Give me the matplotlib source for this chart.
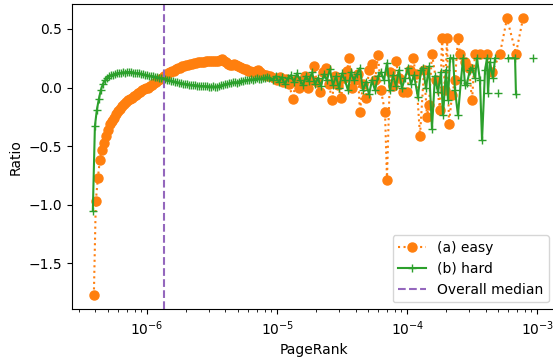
import matplotlib
matplotlib.use("Agg")
import matplotlib.pyplot as plt
import numpy as np

# log10(PageRank) and ratio for the "easy" group
easy_log_pr = [
    -6.410, -6.395, -6.379, -6.364, -6.348, -6.333, -6.318, -6.302, -6.287, -6.272,
    -6.256, -6.241, -6.225, -6.210, -6.195, -6.179, -6.164, -6.148, -6.133, -6.118,
    -6.102, -6.087, -6.072, -6.056, -6.041, -6.025, -6.010, -5.995, -5.979, -5.964,
    -5.948, -5.933, -5.918, -5.902, -5.887, -5.872, -5.856, -5.841, -5.825, -5.810,
    -5.795, -5.779, -5.764, -5.748, -5.733, -5.718, -5.702, -5.687, -5.672, -5.656,
    -5.641, -5.625, -5.610, -5.595, -5.579, -5.564, -5.548, -5.533, -5.518, -5.502,
    -5.487, -5.472, -5.456, -5.441, -5.425, -5.410, -5.395, -5.379, -5.364, -5.348,
    -5.333, -5.318, -5.302, -5.287, -5.272, -5.256, -5.241, -5.225, -5.210, -5.195,
    -5.179, -5.164, -5.148, -5.133, -5.118, -5.102, -5.087, -5.072, -5.056,
    -5.025, -5.002, -4.979, -4.956, -4.933, -4.910, -4.879, -4.856, -4.833, -4.810,
    -4.787, -4.764, -4.740, -4.717, -4.694, -4.672, -4.649, -4.625, -4.602, -4.579,
    -4.556, -4.533, -4.510, -4.487, -4.463, -4.448, -4.425, -4.402, -4.379, -4.364,
    -4.341, -4.318, -4.294, -4.271, -4.248, -4.225, -4.202, -4.171, -4.156, -4.133,
    -4.110, -4.087, -4.064, -4.033, -4.002, -3.979, -3.956, -3.933, -3.902, -3.871,
    -3.848, -3.833, -3.810, -3.779, -3.748, -3.733, -3.710, -3.694, -3.679, -3.656,
    -3.633, -3.610, -3.594, -3.556, -3.525, -3.502, -3.479, -3.441, -3.387, -3.348,
    -3.287, -3.233, -3.164, -3.110,
]
easy_ratio = [
    -1.77, -0.97, -0.77, -0.62, -0.53, -0.47, -0.41, -0.36, -0.31, -0.285,
    -0.26, -0.23, -0.20, -0.18, -0.16, -0.14, -0.125, -0.11, -0.10, -0.09,
    -0.075, -0.06, -0.05, -0.035, -0.025, -0.015, -0.005, 0.0, 0.01, 0.02,
    0.035, 0.05, 0.06, 0.07, 0.08, 0.095, 0.105, 0.12, 0.13, 0.14,
    0.145, 0.155, 0.165, 0.17, 0.18, 0.185, 0.19, 0.195, 0.20, 0.20,
    0.205, 0.21, 0.215, 0.215, 0.22, 0.22, 0.225, 0.225, 0.225, 0.23,
    0.23, 0.23, 0.23, 0.235, 0.24, 0.23, 0.215, 0.20, 0.19, 0.195,
    0.20, 0.19, 0.18, 0.175, 0.165, 0.16, 0.155, 0.145, 0.14, 0.135,
    0.13, 0.14, 0.15, 0.13, 0.115, 0.11, 0.105, 0.10, 0.095,
    0.08, 0.06, 0.09, 0.045, 0.07, 0.03, -0.10, 0.06, -0.005, 0.035,
    0.095, -0.005, 0.06, 0.18, 0.045, -0.04, 0.13, 0.17, 0.03, -0.11,
    0.095, 0.02, -0.09, 0.08, 0.14, 0.25, -0.005, 0.06, 0.115, -0.21,
    0.03, -0.09, 0.15, 0.20, 0.06, 0.275, -0.025, -0.21, -0.79, 0.13,
    0.01, 0.23, 0.08, -0.04, -0.04, 0.15, 0.25, 0.115, -0.41, 0.15,
    -0.25, -0.15, 0.29, 0.06, -0.19, 0.42, -0.025, 0.42, -0.31, -0.065,
    0.06, 0.42, 0.29, 0.215, 0.165, -0.11, 0.29, 0.29, 0.29, 0.13,
    0.29, 0.59, 0.29, 0.59,
]

# log10(PageRank) and ratio for the "hard" group (nan = gap in the line)
hard_log_pr = [
    -6.418, -6.402, -6.387, -6.372, -6.356, -6.341, -6.325, -6.310, -6.295, -6.279,
    -6.264, -6.248, -6.233, -6.218, -6.202, -6.187, -6.172, -6.156, -6.141, -6.125,
    -6.110, -6.095, -6.079, -6.064, -6.048, -6.033, -6.018, -6.002, -5.987, -5.972,
    -5.956, -5.941, -5.925, -5.910, -5.895, -5.879, -5.864, -5.848, -5.833, -5.818,
    -5.802, -5.787, -5.772, -5.756, -5.741, -5.725, -5.710, -5.695, -5.679, -5.664,
    -5.648, -5.633, -5.618, -5.602, -5.587, -5.572, -5.556, -5.541, -5.525, -5.510,
    -5.495, -5.479, -5.464, -5.448, -5.433, -5.418, -5.402, -5.387, -5.372, -5.356,
    -5.341, -5.325, -5.310, -5.295, -5.279, -5.264, -5.248, -5.233, -5.218, -5.202,
    -5.187, -5.172, -5.156, -5.141, -5.125, -5.110, -5.095, -5.079, -5.064,
    -5.033, -5.010, -4.987, -4.964, -4.941, -4.918, -4.894, -4.871,
    -4.848, -4.825, -4.802, -4.779, -4.756, -4.733, -4.710, -4.687, -4.664, -4.641,
    -4.618, -4.595, -4.572, -4.548, -4.525, -4.502, -4.479, -4.456, -4.433, -4.410,
    -4.387, -4.364, -4.341, -4.318, -4.294, -4.271, -4.248, -4.225, -4.202, -4.179,
    -4.156, -4.133, -4.110, -4.087, -4.064, -4.041, -4.018, -3.995, -3.972, -3.948,
    -3.918, -3.895, -3.879, -3.856, -3.833, -3.810, -3.787, -3.764, -3.741, -3.725,
    -3.702, -3.687, -3.671, -3.648, -3.633, -3.610, -3.587, -3.571, -3.556, -3.541,
    -3.518, -3.502, -3.479, -3.464, -3.441, -3.425, -3.402, -3.387, -3.379, -3.364,
    -3.341, -3.325, -3.314, -3.302, -3.260, -3.225, -3.171, -3.164, -3.100, -3.033,
]
hard_ratio = [
    -1.05, -0.33, -0.19, -0.10, -0.02, 0.03, 0.06, 0.08, 0.095, 0.105,
    0.11, 0.115, 0.12, 0.125, 0.122, 0.13, 0.128, 0.135, 0.13, 0.133,
    0.128, 0.125, 0.12, 0.122, 0.115, 0.112, 0.108, 0.105, 0.10, 0.098,
    0.095, 0.09, 0.088, 0.083, 0.08, 0.078, 0.072, 0.068, 0.063, 0.058,
    0.052, 0.048, 0.045, 0.04, 0.037, 0.033, 0.03, 0.028, 0.025, 0.022,
    0.02, 0.02, 0.017, 0.015, 0.014, 0.012, 0.01, 0.01, 0.008, 0.007,
    0.01, 0.006, 0.008, 0.012, 0.018, 0.022, 0.028, 0.03, 0.035, 0.038,
    0.043, 0.045, 0.042, 0.05, 0.055, 0.058, 0.06, 0.062, 0.065, 0.07,
    0.068, 0.072, 0.078, 0.075, 0.07, 0.08, 0.082, 0.088, 0.08,
    0.062, 0.096, 0.045, 0.088, 0.028, 0.08, 0.105, 0.045,
    0.12, 0.062, 0.02, 0.096, 0.054, 0.13, 0.028, 0.08, 0.011, 0.113,
    0.062, 0.155, 0.02, 0.096, -0.006, 0.12, 0.062, -0.023, 0.13, 0.062,
    0.113, 0.165, -0.023, 0.045, -0.057, 0.062, -0.023, 0.096, 0.13, 0.062,
    0.207, -0.023, 0.105, 0.011, 0.148, -0.006, 0.08, 0.165, 0.028, 0.105,
    -0.083, 0.148, 0.165, -0.006, 0.18, -0.35, 0.096, -0.04, 0.13, -0.236,
    0.148, -0.108, 0.25, 0.25, -0.023, -0.236, 0.062, 0.25, 0.02, 0.037,
    0.148, 0.165, 0.08, 0.25, 0.062, -0.45, 0.148, 0.25, -0.048, 0.215,
    0.08, 0.25, np.nan, -0.048, np.nan, 0.25, 0.25, -0.057, np.nan, 0.25,
]

overall_median = 1.35e-6

easy_pr = 10 ** np.array(easy_log_pr)
hard_pr = 10 ** np.array(hard_log_pr)

fig = plt.figure(figsize=(5.53, 3.6), dpi=100)
ax = fig.add_axes([0.130, 0.141, 0.875, 0.848])

ax.plot(easy_pr, easy_ratio, linestyle=":", marker="o", markersize=6.5,
        color="tab:orange", linewidth=1.5, label="(a) easy")
ax.plot(hard_pr, hard_ratio, linestyle="-", marker="+", markersize=6,
        color="tab:green", linewidth=1.5, label="(b) hard")
ax.axvline(overall_median, color="tab:purple", linestyle="--", linewidth=1.5,
           label="Overall median")

ax.set_xscale("log")
ax.set_xlim(10 ** -6.579, 10 ** -2.858)
ax.set_ylim(-1.892, 0.713)
ax.set_xlabel("PageRank")
ax.set_ylabel("Ratio")
ax.legend(loc="lower right")

fig.savefig("out.png", dpi=100)
